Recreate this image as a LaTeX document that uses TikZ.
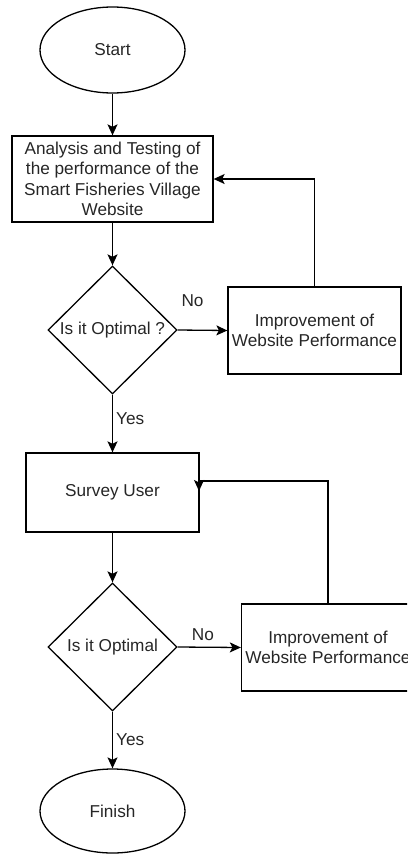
\documentclass[tikz,border=0pt]{standalone}
\usepackage{fontspec}
\setmainfont{Liberation Sans}
\usetikzlibrary{shapes.geometric,arrows.meta}
\begin{document}
\begin{tikzpicture}[x=1pt,y=-1pt,
  every node/.style={font=\fontsize{17.2}{20.5}\selectfont, text=black!85},
  base/.style={draw=black, line width=1.3pt},
  term/.style={base, ellipse, inner sep=0pt, minimum width=145pt, minimum height=86pt},
  proc/.style={base, rectangle, inner sep=0pt, align=center},
  dia/.style={base, diamond, inner sep=0pt, minimum width=129pt, minimum height=128pt, aspect=1},
  lbl/.style={inner sep=0pt},
  flow/.style={line width=1.3pt, draw=black, -{Stealth[length=11pt,width=10pt,inset=2.5pt]}},
]
\clip (0,0) rectangle (407,854);
\node[term] (start) at (112.5,50) {Start};
\node[proc, minimum width=201pt, minimum height=86pt] (box1) at (112.5,179)
  {Analysis and Testing of\\the performance of the\\Smart Fisheries Village\\Website};
\node[dia] (d1) at (112.5,330) {};
\node[lbl] (d1t) at (112.5,330) {Is it Optimal ?};
\node[proc, minimum width=173pt, minimum height=87pt] (i1) at (314.5,330.5)
  {Improvement of\\Website Performance};
\node[proc, minimum width=173pt, minimum height=79pt] (survey) at (112.5,492.5) {Survey User};
\node[dia] (d2) at (112.5,647) {};
\node[lbl] (d2t) at (112.5,647) {Is it Optimal};
\node[proc, minimum width=173pt, minimum height=87pt] (i2) at (328,647.5)
  {Improvement of\\Website Performance};
\node[term, minimum height=84pt] (finish) at (112.5,811) {Finish};

\coordinate (c1) at (199,481);
\coordinate (c2) at (199,491);

\draw[flow] (start) -- (box1);
\draw[flow] (box1) -- (d1);
\draw[flow] (d1.east) -- node[lbl, pos=0.3, yshift=29pt] {No} (i1.west);
\draw[flow] (i1.north) |- (box1.east);
\draw[flow] (d1.south) -- node[lbl, pos=0.42, anchor=west, xshift=3pt] {Yes} (survey.north);
\draw[flow] (survey) -- (d2);
\draw[flow] (d2.east) -- node[lbl, pos=0.4, yshift=13pt] {No} (i2.west);
\draw[flow] (i2.north) |- (c1) -- (c2);
\draw[flow] (d2.south) -- node[lbl, pos=0.5, anchor=west, xshift=3pt] {Yes} (finish.north);
\end{tikzpicture}
\end{document}
